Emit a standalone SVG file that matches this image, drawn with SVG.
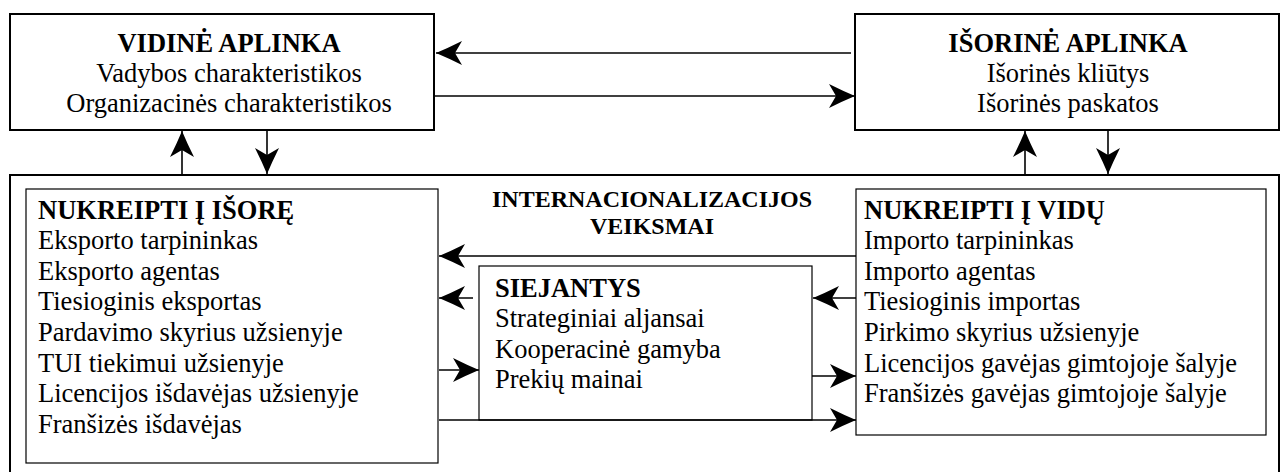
<svg xmlns="http://www.w3.org/2000/svg" width="1286" height="472" viewBox="0 0 1286 472">
  <style>
    .outer { fill: #fff; stroke: #000; stroke-width: 2; }
    .inner { fill: #fff; stroke: #000; stroke-width: 1.2; }
    .t { font-family: "Liberation Serif", "Times New Roman", serif; font-size: 26.5px; fill: #000; }
    .b { font-weight: bold; }
    .c { text-anchor: middle; }
    .s { font-size: 24px; }
    .conn line { stroke: #000; stroke-width: 1.6; marker-end: url(#ah); }
  </style>
  <defs>
    <marker id="ah" viewBox="0 0 26 26" refX="26" refY="13" markerWidth="26" markerHeight="26" markerUnits="userSpaceOnUse" orient="auto">
      <path d="M26,13 Q14,8 0,1 L7,13 L0,25 Q14,18 26,13 Z" fill="#000"/>
    </marker>
  </defs>
  <rect width="1286" height="472" fill="#fff"/>

  <g id="vidine">
    <rect class="outer" x="10" y="14" width="424" height="116"/>
    <text class="t b c" x="229" y="52">VIDINĖ APLINKA</text>
    <text class="t c" x="229" y="82">Vadybos charakteristikos</text>
    <text class="t c" x="229" y="112">Organizacinės charakteristikos</text>
  </g>

  <g id="isorine">
    <rect class="outer" x="855" y="14" width="424" height="116"/>
    <text class="t b c" x="1068" y="52">IŠORINĖ APLINKA</text>
    <text class="t c" x="1068" y="82">Išorinės kliūtys</text>
    <text class="t c" x="1068" y="112">Išorinės paskatos</text>
  </g>

  <g id="veiksmai">
    <rect class="outer" x="10" y="175" width="1269" height="310"/>
    <text class="t s b c" x="652" y="207">INTERNACIONALIZACIJOS</text>
    <text class="t s b c" x="652" y="234">VEIKSMAI</text>
  </g>

  <g id="isore">
    <rect class="inner" x="26" y="189" width="412" height="274"/>
    <text class="t b" x="38" y="219">NUKREIPTI Į IŠORĘ</text>
    <text class="t" x="38" y="249">Eksporto tarpininkas</text>
    <text class="t" x="38" y="280">Eksporto agentas</text>
    <text class="t" x="38" y="310">Tiesioginis eksportas</text>
    <text class="t" x="38" y="341">Pardavimo skyrius užsienyje</text>
    <text class="t" x="38" y="372">TUI tiekimui užsienyje</text>
    <text class="t" x="38" y="402">Licencijos išdavėjas užsienyje</text>
    <text class="t" x="38" y="433">Franšizės išdavėjas</text>
  </g>

  <g id="vidu">
    <rect class="inner" x="856" y="189" width="410" height="246"/>
    <text class="t b" x="864" y="219">NUKREIPTI Į VIDŲ</text>
    <text class="t" x="864" y="249">Importo tarpininkas</text>
    <text class="t" x="864" y="280">Importo agentas</text>
    <text class="t" x="864" y="310">Tiesioginis importas</text>
    <text class="t" x="864" y="341">Pirkimo skyrius užsienyje</text>
    <text class="t" x="864" y="372">Licencijos gavėjas gimtojoje šalyje</text>
    <text class="t" x="864" y="402">Franšizės gavėjas gimtojoje šalyje</text>
  </g>

  <g id="siejantys">
    <rect class="inner" x="479" y="266" width="333" height="154"/>
    <text class="t b" x="495" y="297">SIEJANTYS</text>
    <text class="t" x="495" y="327">Strateginiai aljansai</text>
    <text class="t" x="495" y="358">Kooperacinė gamyba</text>
    <text class="t" x="495" y="388">Prekių mainai</text>
  </g>

  <g id="connectors" class="conn">
    <line x1="851" y1="53" x2="436" y2="53"/>
    <line x1="434" y1="96" x2="855" y2="96"/>
    <line x1="182" y1="174" x2="182" y2="131"/>
    <line x1="267" y1="131" x2="267" y2="174"/>
    <line x1="1025" y1="174" x2="1025" y2="131"/>
    <line x1="1108" y1="131" x2="1108" y2="174"/>
    <line x1="856" y1="256" x2="439" y2="256"/>
    <line x1="473" y1="298" x2="439" y2="298"/>
    <line x1="856" y1="298" x2="813" y2="298"/>
    <line x1="439" y1="370" x2="479" y2="370"/>
    <line x1="812" y1="376" x2="856" y2="376"/>
    <line x1="439" y1="420" x2="856" y2="420"/>
  </g>
</svg>
